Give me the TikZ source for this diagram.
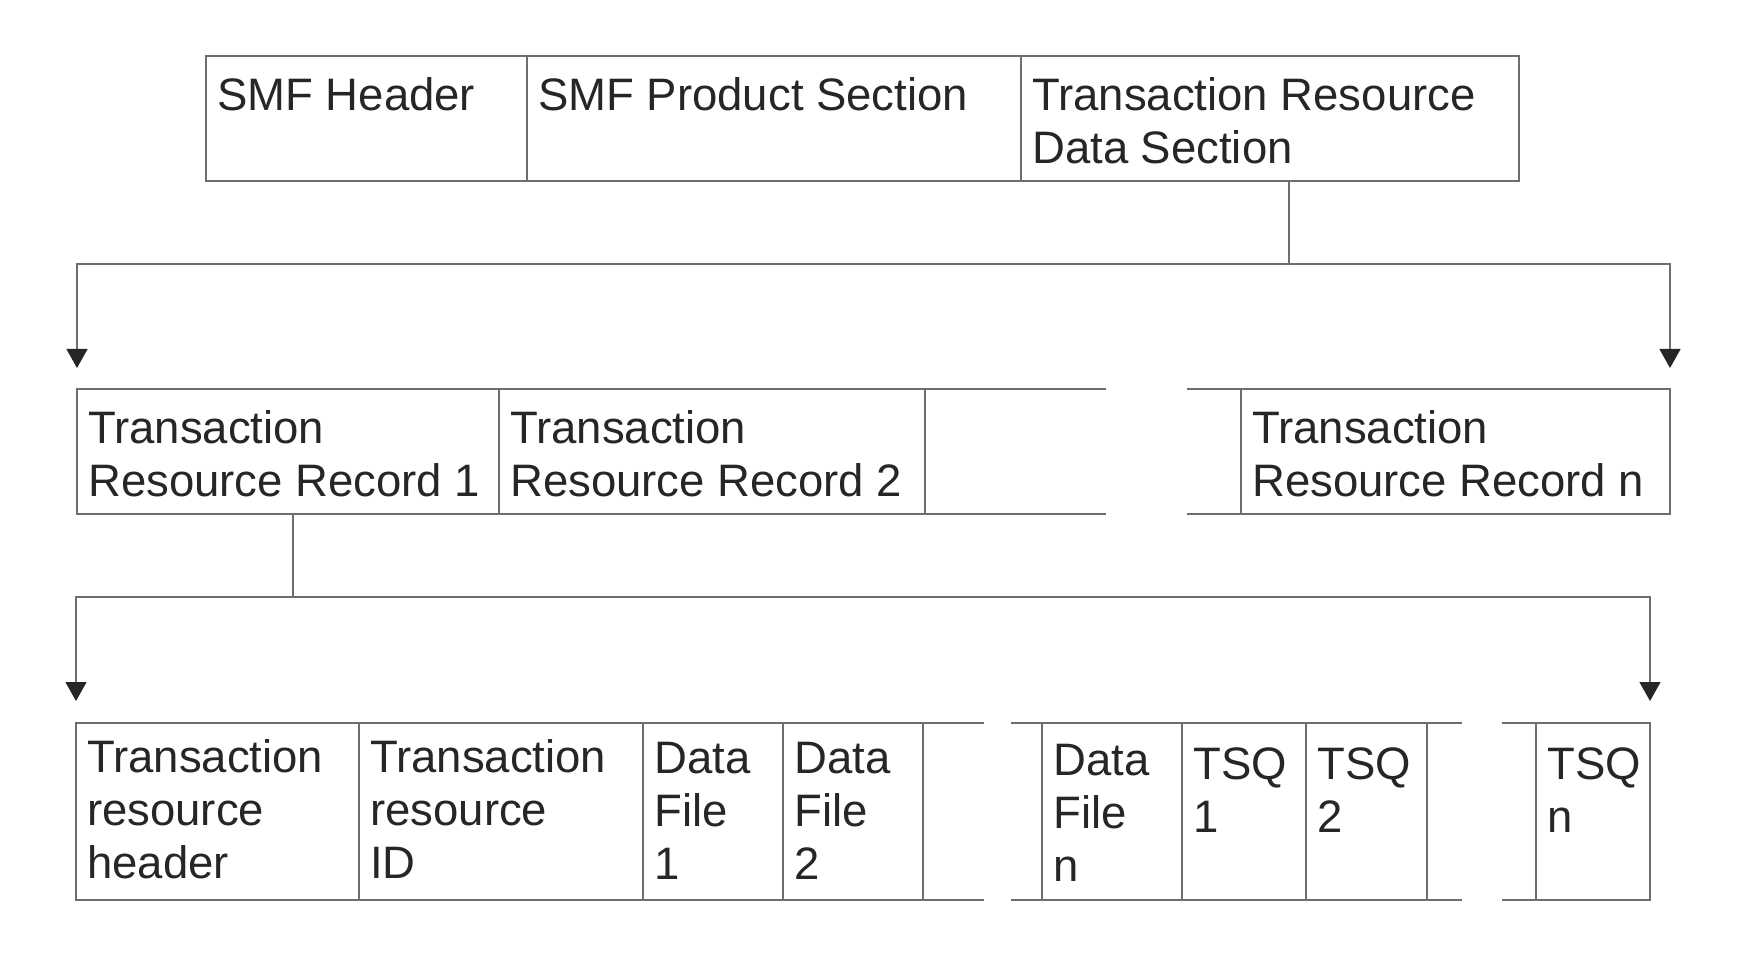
\documentclass[tikz,border=0pt]{standalone}
\usepackage{fontspec}
\setmainfont{Liberation Sans}
\usetikzlibrary{arrows.meta}
\definecolor{linegray}{RGB}{110,110,110}
\definecolor{ink}{RGB}{38,38,38}

\begin{document}
\begin{tikzpicture}[x=1pt, y=-1pt,
    cell/.style={rectangle, draw=linegray, line width=1.5pt, anchor=north west, inner sep=0pt, outer sep=0pt, minimum height=125pt},
    tall/.style={cell, minimum height=177pt},
    lbl/.style={anchor=north west, inner xsep=11pt, inner ysep=21pt, align=left, text=ink, font=\fontsize{45.5}{53}\selectfont},
    open/.style={draw=linegray, line width=1.5pt},
    link/.style={draw=linegray, line width=1.3pt},
    arr/.style={link, -{Triangle[width=21pt, length=19pt, color=ink]}}]
    \useasboundingbox (0,0) rectangle (1745,957);

    % SMF record
    \node[cell, minimum width=321pt, label={[lbl]north west:SMF Header}] (smfh) at (206,56) {};
    \node[cell, minimum width=494pt, label={[lbl]north west:SMF Product Section}] (smfp) at (527,56) {};
    \node[cell, minimum width=498pt, label={[lbl]north west:{Transaction Resource\\Data Section}}] (trds) at (1021,56) {};

    % Transaction resource records
    \node[cell, minimum width=422pt, label={[lbl]north west:{Transaction\\Resource Record 1}}] (rr1) at (77,389) {};
    \node[cell, minimum width=426pt, label={[lbl]north west:{Transaction\\Resource Record 2}}] (rr2) at (499,389) {};
    \node[cell, minimum width=429pt, label={[lbl]north west:{Transaction\\Resource Record n}}] (rrn) at (1241,389) {};
    \draw[open] (rr2.north east) -- ++(181,0) (rr2.south east) -- ++(181,0);
    \draw[open] (rrn.north west) -- ++(-54,0) (rrn.south west) -- ++(-54,0);

    % One record in detail
    \node[tall, minimum width=283pt, label={[lbl, inner ysep=16pt]north west:{Transaction\\resource\\header}}] (trh) at (76,723) {};
    \node[tall, minimum width=284pt, label={[lbl, inner ysep=16pt]north west:{Transaction\\resource\\ID}}] (tri) at (359,723) {};
    \node[tall, minimum width=140pt, label={[lbl, inner ysep=19pt]north west:{Data\\File\\1}}] (df1) at (643,723) {};
    \node[tall, minimum width=140pt, label={[lbl, inner ysep=19pt]north west:{Data\\File\\2}}] (df2) at (783,723) {};
    \node[tall, minimum width=140pt, label={[lbl, inner ysep=21pt]north west:{Data\\File\\n}}] (dfn) at (1042,723) {};
    \node[tall, minimum width=124pt, label={[lbl, inner ysep=25pt]north west:{TSQ\\1}}] (tsq1) at (1182,723) {};
    \node[tall, minimum width=121pt, label={[lbl, inner ysep=25pt]north west:{TSQ\\2}}] (tsq2) at (1306,723) {};
    \node[tall, minimum width=114pt, label={[lbl, inner ysep=25pt]north west:{TSQ\\n}}] (tsqn) at (1536,723) {};
    \draw[open] (df2.north east) -- ++(61,0) (df2.south east) -- ++(61,0);
    \draw[open] (dfn.north west) -- ++(-31,0) (dfn.south west) -- ++(-31,0);
    \draw[open] (tsq2.north east) -- ++(35,0) (tsq2.south east) -- ++(35,0);
    \draw[open] (tsqn.north west) -- ++(-34,0) (tsqn.south west) -- ++(-34,0);

    % Arrows
    \coordinate (j1) at (1289,264);
    \draw[link] (trds.south -| j1) -- (j1);
    \draw[arr, shorten >=21pt] (j1) -| (rr1.north west);
    \draw[arr, shorten >=21pt] (j1) -| (rrn.north east);
    \coordinate (j2) at (293,597);
    \draw[link] (rr1.south -| j2) -- (j2);
    \draw[arr, shorten >=22pt] (j2) -| (trh.north west);
    \draw[arr, shorten >=22pt] (j2) -| (tsqn.north east);
\end{tikzpicture}
\end{document}
